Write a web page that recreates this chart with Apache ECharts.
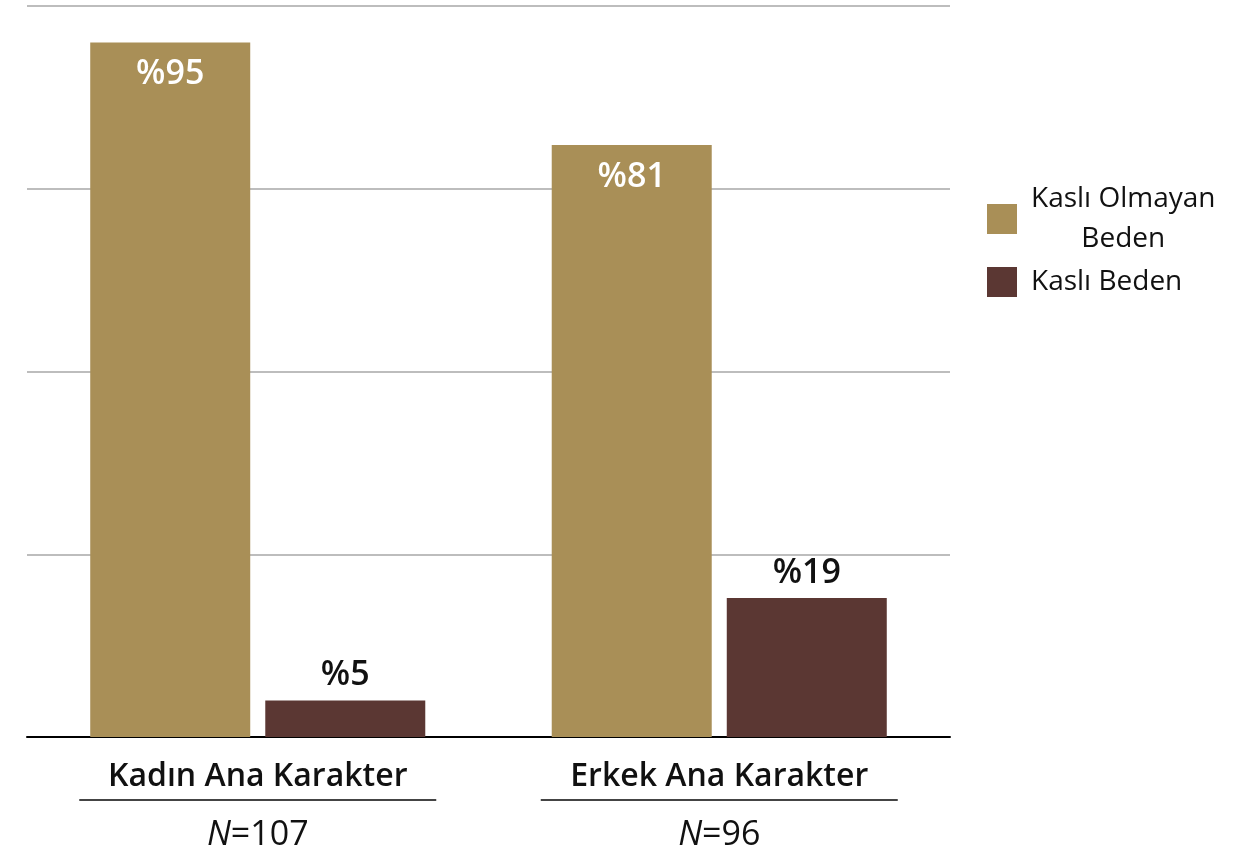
<!DOCTYPE html>
<html>
<head>
<meta charset="utf-8">
<script src="https://cdn.jsdelivr.net/npm/echarts@6/dist/echarts.min.js"></script>
<style>html,body{margin:0;padding:0;background:#fff;}#c{width:1250px;height:852px;}</style>
</head>
<body>
<div id="c"></div>
<script>
const categories = ['Kadın Ana Karakter', 'Erkek Ana Karakter'];
const sampleSizes = [107, 96];
const seriesNames = ['Kaslı Olmayan\nBeden', 'Kaslı Beden'];
const nonMuscular = [95, 81];
const muscular = [5, 19];

const FONT = 'Open Sans';
const chart = echarts.init(document.getElementById('c'));
chart.setOption({
  animation: false,
  grid: { left: 27, right: 300, top: 6, bottom: 115 },
  legend: {
    orient: 'vertical',
    left: 982,
    top: 180,
    itemWidth: 30,
    itemHeight: 30,
    itemGap: 14,
    icon: 'rect',
    data: seriesNames,
    formatter: function (name) {
      return name.split('\n').map(function (l) { return '{a|' + l + '}'; }).join('\n');
    },
    textStyle: {
      rich: {
        a: { fontFamily: FONT, fontSize: 28, color: '#111', lineHeight: 40, align: 'center', padding: [0, 0, 0, 9] }
      }
    }
  },
  xAxis: {
    type: 'category',
    data: categories,
    axisLine: { lineStyle: { color: '#000', width: 2 } },
    axisTick: { show: false },
    axisLabel: {
      margin: 17,
      formatter: function (v, i) {
        return '{b|' + v + '}\n{u| }\n{i|N}{n|=' + sampleSizes[i] + '}';
      },
      rich: {
        b: { fontFamily: FONT, fontSize: 32, fontWeight: 600, color: '#111', lineHeight: 45 },
        u: { width: 357, height: 2, lineHeight: 2, backgroundColor: '#444', fontSize: 2 },
        i: { fontFamily: FONT, fontSize: 34, fontStyle: 'italic', color: '#111', lineHeight: 68 },
        n: { fontFamily: FONT, fontSize: 34, color: '#111', lineHeight: 68 }
      }
    }
  },
  yAxis: {
    type: 'value',
    min: 0,
    max: 100,
    interval: 25,
    axisLabel: { show: false },
    axisLine: { show: false },
    axisTick: { show: false },
    splitLine: { lineStyle: { color: '#bdbdbd', width: 2 } }
  },
  series: [
    {
      name: seriesNames[0],
      type: 'bar',
      data: nonMuscular,
      barWidth: 160,
      barGap: '9.4%',
      itemStyle: { color: '#a98f57' },
      label: {
        show: true,
        position: 'insideTop',
        distance: 15,
        formatter: '%{c}',
        fontFamily: FONT,
        fontSize: 34,
        fontWeight: 600,
        color: '#fff'
      }
    },
    {
      name: seriesNames[1],
      type: 'bar',
      data: muscular,
      barWidth: 160,
      itemStyle: { color: '#5b3733' },
      label: {
        show: true,
        position: 'top',
        distance: 8,
        formatter: '%{c}',
        fontFamily: FONT,
        fontSize: 34,
        fontWeight: 600,
        color: '#111'
      }
    }
  ]
});
</script>
</body>
</html>
